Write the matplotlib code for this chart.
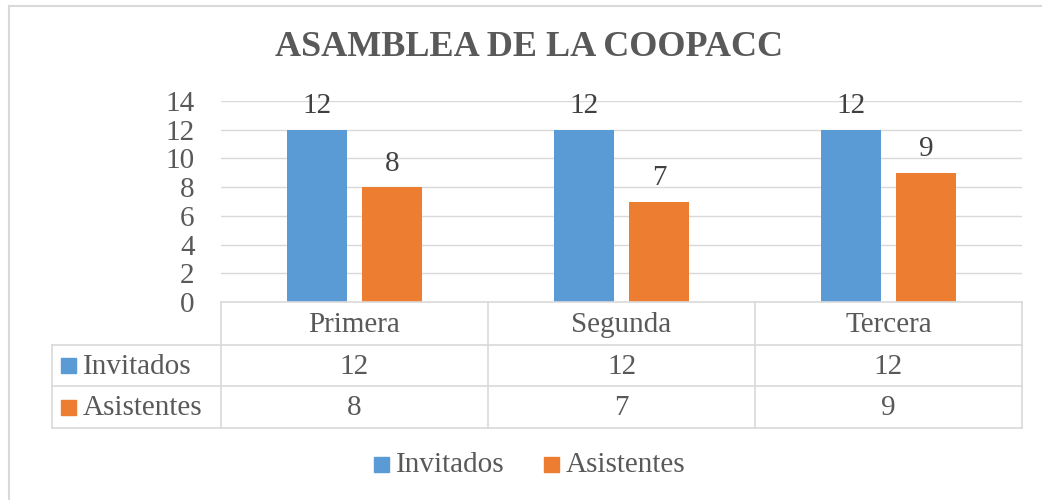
import matplotlib
matplotlib.use("Agg")
import matplotlib.pyplot as plt
from matplotlib.lines import Line2D
from matplotlib.patches import Rectangle

title = "ASAMBLEA DE LA COOPACC"
categories = ["Primera", "Segunda", "Tercera"]
series_names = ["Invitados", "Asistentes"]
invitados = [12, 12, 12]
asistentes = [8, 7, 9]
yticks = [0, 2, 4, 6, 8, 10, 12, 14]

colors = ["#5B9BD5", "#ED7D31"]
text_c = "#595959"
label_c = "#404040"
grid_c = "#D9D9D9"

W, H = 1042, 500
plt.rcParams['font.family'] = ['Liberation Serif', 'DejaVu Serif']
fig = plt.figure(figsize=(W / 100, H / 100), dpi=100)

def fx(x):
    return x / W

def fy(y):
    return 1 - y / H

# outer border
fig.add_artist(Line2D([fx(9), fx(1042)], [fy(6), fy(6)], color="#D9D9D9", lw=1.5))
fig.add_artist(Line2D([fx(9), fx(9)], [fy(6), fy(500)], color="#D9D9D9", lw=1.5))

# plot area
L, R, T, B = 221, 1022, 101, 302
ax = fig.add_axes([fx(L), fy(B), fx(R - L), (B - T) / H])
ax.set_xlim(-0.5, len(categories) - 0.5)
ax.set_ylim(0, 14)
for s in ax.spines.values():
    s.set_visible(False)
ax.set_xticks([])
ax.set_yticks(yticks)
ax.set_yticklabels([str(v) for v in yticks])
ax.tick_params(axis='y', length=0, pad=19, labelsize=21, labelcolor=text_c)
for v in yticks[1:]:
    ax.axhline(v, color=grid_c, lw=1, zorder=0)

bw = 0.225
off = 0.14
xs = list(range(len(categories)))
series = [invitados, asistentes]
for i, (vals, c) in enumerate(zip(series, colors)):
    pos = [x + (-off if i == 0 else off) for x in xs]
    bars = ax.bar(pos, vals, width=bw, color=c, zorder=2)
    for b, v in zip(bars, vals):
        ax.annotate(str(v), (b.get_x() + b.get_width() / 2, v), xytext=(0, 7.5),
                    textcoords="offset points", ha="center", va="bottom",
                    fontsize=21, color=label_c, annotation_clip=False)

# title
fig.text(fx(529), fy(48), title, ha="center", va="center", fontsize=26,
         fontweight="bold", color=text_c)

# data table
rows_y = [302, 345, 386, 428]
col_x = [221, 488, 755, 1022]
tl = 52
lw = 1.2
fig.add_artist(Line2D([fx(L), fx(R)], [fy(rows_y[0])] * 2, color=grid_c, lw=lw))
for y in rows_y[1:]:
    fig.add_artist(Line2D([fx(tl), fx(R)], [fy(y)] * 2, color=grid_c, lw=lw))
for x in col_x:
    fig.add_artist(Line2D([fx(x)] * 2, [fy(rows_y[0]), fy(rows_y[-1])], color=grid_c, lw=lw))
fig.add_artist(Line2D([fx(tl)] * 2, [fy(rows_y[1]), fy(rows_y[-1])], color=grid_c, lw=lw))

for j, cat in enumerate(categories):
    cx = (col_x[j] + col_x[j + 1]) / 2
    fig.text(fx(cx), fy((rows_y[0] + rows_y[1]) / 2 + 1), cat, ha="center", va="center",
             fontsize=21, color=text_c)
    for i, vals in enumerate(series):
        fig.text(fx(cx), fy((rows_y[i + 1] + rows_y[i + 2]) / 2 + 1), str(vals[j]),
                 ha="center", va="center", fontsize=21, color=text_c)

for i, (name, c) in enumerate(zip(series_names, colors)):
    cy = (rows_y[i + 1] + rows_y[i + 2]) / 2
    fig.add_artist(Rectangle((fx(61), fy(cy + 7.5)), 15 / W, 15 / H, color=c,
                             transform=fig.transFigure))
    fig.text(fx(83), fy(cy + 1), name, ha="left", va="center", fontsize=21, color=text_c)

# legend
leg_items = [(374, 396), (544, 566)]
for (sx, tx), name, c in zip(leg_items, series_names, colors):
    fig.add_artist(Rectangle((fx(sx), fy(472)), 15 / W, 15 / H, color=c,
                             transform=fig.transFigure))
    fig.text(fx(tx), fy(465), name, ha="left", va="center", fontsize=21, color=text_c)

fig.savefig("out.png", dpi=100)
